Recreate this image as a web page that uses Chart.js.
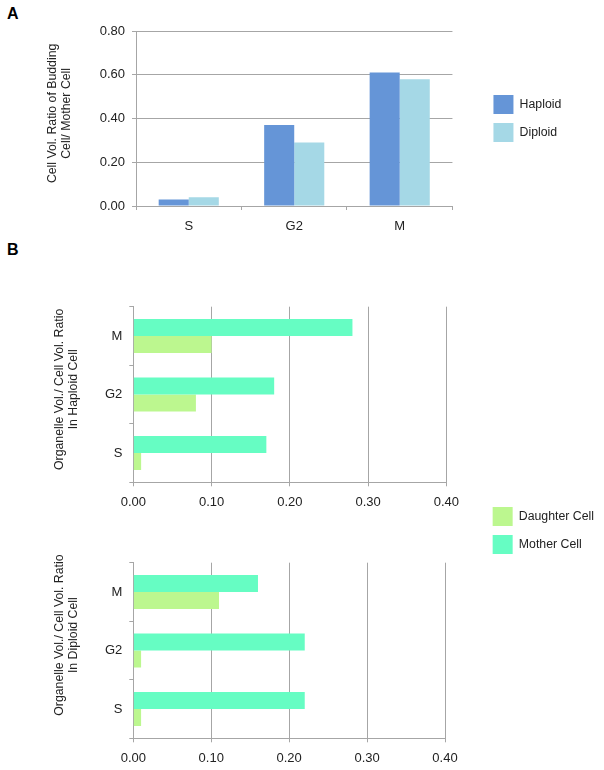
<!DOCTYPE html>
<html><head><meta charset="utf-8">
<script src="https://cdn.jsdelivr.net/npm/chart.js@4.4.0/dist/chart.umd.min.js"></script>
<style>
html,body{margin:0;padding:0;background:#fff;}
#wrap{position:relative;width:604px;height:770px;overflow:hidden;background:#fff;}
canvas{position:absolute;left:0;}
.lab{position:absolute;font:bold 16px "Liberation Sans",Arial,sans-serif;line-height:16px;color:#000;}
</style></head><body>
<div id="wrap">
<div class="lab" style="left:7px;top:6px">A</div>
<div class="lab" style="left:7px;top:242px">B</div>
<canvas id="cA" width="604" height="240" style="top:0"></canvas>
<canvas id="cH" width="604" height="303" style="top:260px"></canvas>
<canvas id="cD" width="604" height="230" style="top:540px"></canvas>
</div>
<script>
// ---- data ----
const stagesA = ['S', 'G2', 'M'];
const haploidRatio = [0.03, 0.37, 0.61];
const diploidRatio = [0.04, 0.29, 0.58];

const stagesB = ['M', 'G2', 'S'];
const haploidMother = [0.28, 0.18, 0.17];
const haploidDaughter = [0.10, 0.08, 0.01];
const diploidMother = [0.16, 0.22, 0.22];
const diploidDaughter = [0.11, 0.01, 0.01];

const titleA = ['Cell Vol. Ratio of Budding', 'Cell/ Mother Cell'];
const titleH = ['Organelle Vol./ Cell Vol. Ratio', 'In Haploid Cell'];
const titleD = ['Organelle Vol./ Cell Vol. Ratio', 'In Diploid Cell'];

// ---- style ----
Chart.defaults.font.family = '"Liberation Sans", Arial, sans-serif';
Chart.defaults.color = '#222';
const GRID = '#a6a6a6';
const fmt = v => Number(v).toFixed(2);
// shift a rotated, centred axis title upward by prefixing blank space
const lift = (lines, n) => lines.map(t => ' '.repeat(n) + t);

new Chart(document.getElementById('cA'), {
  type: 'bar',
  data: {
    labels: stagesA,
    datasets: [
      { label: 'Haploid', data: haploidRatio, backgroundColor: '#6595d7', categoryPercentage: 0.57, barPercentage: 1 },
      { label: 'Diploid', data: diploidRatio, backgroundColor: '#a5d8e6', categoryPercentage: 0.57, barPercentage: 1 }
    ]
  },
  options: {
    responsive: false, devicePixelRatio: 1, animation: false,
    layout: { padding: { top: 31, left: 0, right: 32.7, bottom: 0 } },
    plugins: {
      tooltip: { enabled: false },
      legend: { position: 'right', align: 'center', fullSize: false, maxWidth: 300,
        labels: { boxWidth: 20, boxHeight: 19, padding: 9, font: { size: 12.3 }, color: '#222' } }
    },
    scales: {
      x: {
        grid: { display: true, drawOnChartArea: false, offset: true, color: GRID, tickLength: 4 },
        border: { color: GRID },
        ticks: { padding: 9, font: { size: 13 } },
        afterFit: s => { s.height = 34; }
      },
      y: {
        min: 0, max: 0.8,
        ticks: { stepSize: 0.2, padding: 7, font: { size: 13 }, callback: fmt },
        grid: { color: GRID, tickLength: 4 },
        border: { color: GRID },
        title: { display: true, text: lift(titleA, 3), font: { size: 12.3, lineHeight: 1.18 }, padding: { top: 45, bottom: 0 }, color: '#222' },
        afterFit: s => { s.width = 136; }
      },
      spacer: {
        position: 'right', display: true,
        grid: { display: false }, border: { display: false }, ticks: { display: false },
        afterFit: s => { s.width = 32; }
      }
    }
  }
});

function organelleChart(id, mother, daughter, title, cfg) {
  const scales = {
    x: {
      min: 0, max: 0.4,
      ticks: { stepSize: 0.1, padding: 8, font: { size: 13 }, callback: fmt },
      grid: { color: GRID, tickLength: 4 },
      border: { color: GRID },
      afterFit: s => { s.height = cfg.xHeight; }
    },
    y: {
      grid: { display: true, drawOnChartArea: false, offset: true, color: GRID, tickLength: 4 },
      border: { color: GRID },
      ticks: { padding: 7, font: { size: 13 } },
      title: { display: true, text: lift(title, cfg.lift), font: { size: 12.3, lineHeight: 1.18 }, padding: { top: 52, bottom: 0 }, color: '#222' },
      afterFit: s => { s.width = 133.3; }
    }
  };
  if (cfg.spacer) {
    scales.spacer = {
      position: 'right', display: true,
      grid: { display: false }, border: { display: false }, ticks: { display: false },
      afterFit: s => { s.width = cfg.spacer; }
    };
  }
  return new Chart(document.getElementById(id), {
    type: 'bar',
    data: {
      labels: stagesB,
      datasets: [
        { label: 'Mother Cell', data: mother, backgroundColor: '#66fdc3', categoryPercentage: 0.58, barPercentage: 1 },
        { label: 'Daughter Cell', data: daughter, backgroundColor: '#bcf78f', categoryPercentage: 0.58, barPercentage: 1 }
      ]
    },
    options: {
      indexAxis: 'y',
      responsive: false, devicePixelRatio: 1, animation: false,
      layout: { padding: cfg.padding },
      plugins: {
        tooltip: { enabled: false },
        legend: cfg.legend ? {
          position: 'right', align: 'end', fullSize: true, reverse: true, maxWidth: 300,
          labels: { boxWidth: 20, boxHeight: 19, padding: 9, font: { size: 12.3 }, color: '#222' }
        } : { display: false }
      },
      scales
    }
  });
}

organelleChart('cH', haploidMother, haploidDaughter, titleH, {
  padding: { top: 46.7, left: 0, right: 0, bottom: 0 }, xHeight: 80.7, spacer: 37.3, legend: true, lift: 3
});
organelleChart('cD', diploidMother, diploidDaughter, titleD, {
  padding: { top: 22.7, left: 0, right: 159, bottom: 0 }, xHeight: 31.7, spacer: 0, legend: false, lift: 9
});
</script>
</body></html>
